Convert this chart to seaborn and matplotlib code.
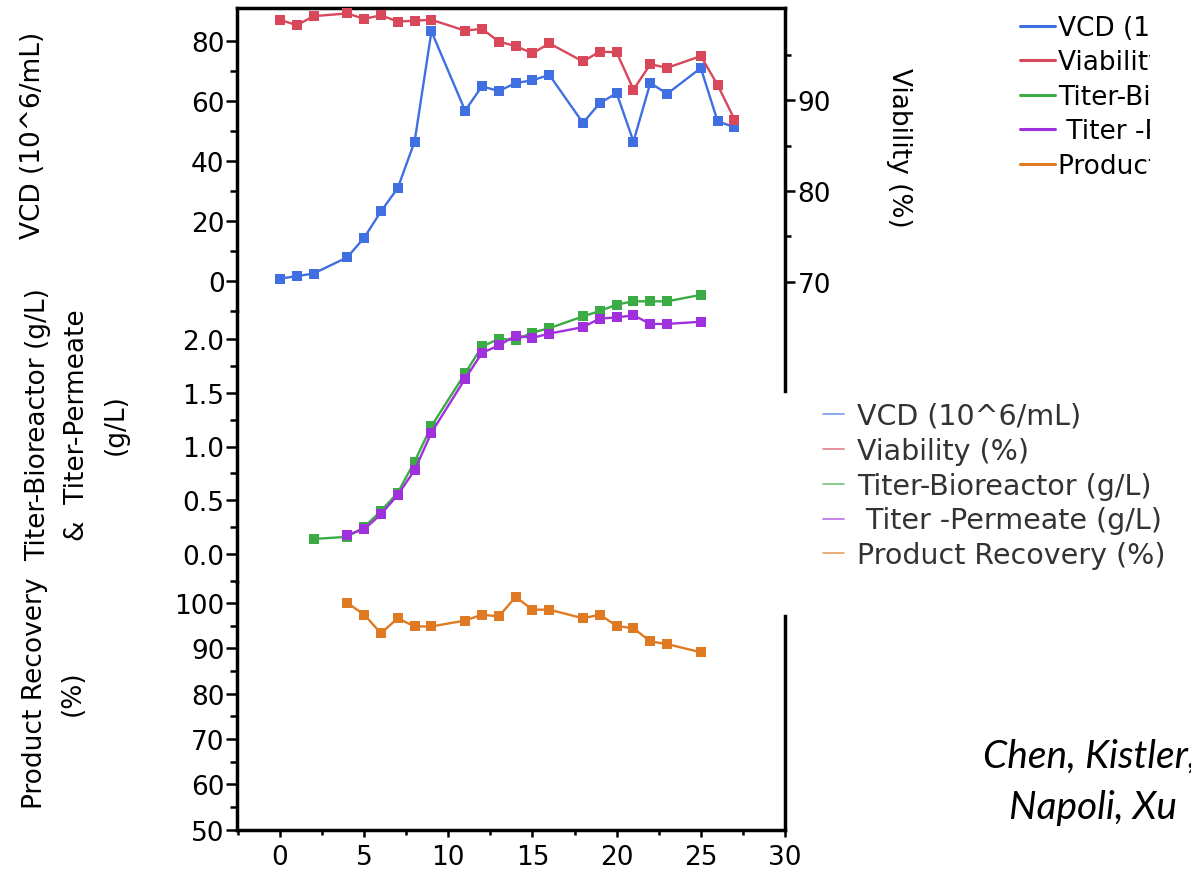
import matplotlib
matplotlib.use("Agg")
import seaborn as sns
import matplotlib.pyplot as plt
from matplotlib.lines import Line2D
from matplotlib.patches import Rectangle

sns.set_style("ticks")
plt.rcParams['font.family'] = ['DejaVu Sans']
plt.rcParams.update({"text.color": "black", "xtick.color": "black", "ytick.color": "black",
                     "axes.labelcolor": "black"})

# Data
vcd_day = [0, 1, 2, 4, 5, 6, 7, 8, 9, 11, 12, 13, 14, 15, 16, 18, 19, 20, 21, 22, 23, 25, 26, 27]
vcd = [0.8, 1.6, 2.5, 7.9, 14.4, 23.2, 31.0, 46.5, 83.2, 56.8, 64.9, 63.3, 66.0, 66.9, 68.7,
       52.7, 59.3, 62.6, 46.5, 66.0, 62.4, 71.0, 53.2, 51.3]
viability = [98.9, 98.3, 99.3, 99.6, 99.0, 99.4, 98.7, 98.8, 98.9, 97.7, 97.9, 96.5, 96.0, 95.2,
             96.3, 94.3, 95.4, 95.3, 91.2, 94.0, 93.6, 94.9, 91.7, 87.9]
titer_bio_day = [2, 4, 5, 6, 7, 8, 9, 11, 12, 13, 14, 15, 16, 18, 19, 20, 21, 22, 23, 25]
titer_bio = [0.14, 0.16, 0.25, 0.40, 0.57, 0.86, 1.19, 1.68, 1.93, 2.00, 1.99, 2.06, 2.10, 2.21,
             2.26, 2.32, 2.35, 2.35, 2.35, 2.41]
perm_day = [4, 5, 6, 7, 8, 9, 11, 12, 13, 14, 15, 16, 18, 19, 20, 21, 22, 23, 25]
titer_perm = [0.18, 0.23, 0.37, 0.55, 0.78, 1.13, 1.63, 1.87, 1.94, 2.03, 2.01, 2.05, 2.11, 2.19,
              2.20, 2.22, 2.14, 2.14, 2.16]
recovery = [100.0, 97.4, 93.3, 96.6, 94.8, 94.8, 96.1, 97.4, 97.0, 101.3, 98.5, 98.5, 96.6, 97.4,
            94.9, 94.4, 91.5, 90.9, 89.1]

labels = ["VCD (10^6/mL)", "Viability (%)", "Titer-Bioreactor (g/L)",
          " Titer -Permeate (g/L)", "Product Recovery (%)"]
colors = ["#3f6fe0", "#d9475a", "#3aab45", "#a030dc", "#e07a22"]

W, H = 1191, 870
fig = plt.figure(figsize=(W / 100, H / 100), dpi=100)


def band(top, bottom):
    return [237 / W, 1 - bottom / H, (785 - 237) / W, (bottom - top) / H]


ax_vcd = fig.add_axes(band(9, 312))
ax_via = fig.add_axes(band(9, 392))
ax_tit = fig.add_axes(band(312, 583))
ax_rec = fig.add_axes(band(583, 831))

for ax in [ax_vcd, ax_via, ax_tit, ax_rec]:
    ax.set_facecolor("none")
    ax.set_xlim(-2.55, 30)
    for s in ax.spines.values():
        s.set_visible(False)
        s.set_linewidth(2.5)
        s.set_color("black")
    ax.set_xticks([])

kw = dict(marker="s", markersize=6.5, markeredgewidth=0, linewidth=1.7)
sns.lineplot(x=vcd_day, y=vcd, ax=ax_vcd, color=colors[0], **kw)
sns.lineplot(x=vcd_day, y=viability, ax=ax_via, color=colors[1], **kw)
sns.lineplot(x=titer_bio_day, y=titer_bio, ax=ax_tit, color=colors[2], **kw)
sns.lineplot(x=perm_day, y=titer_perm, ax=ax_tit, color=colors[3], **kw)
sns.lineplot(x=perm_day, y=recovery, ax=ax_rec, color=colors[4], **kw)
for ax in [ax_vcd, ax_via, ax_tit, ax_rec]:
    ax.set_xlabel("")
    ax.set_ylabel("")
    for l in ax.lines:
        l.set_clip_on(False)

# left stacked scales
ax_vcd.set_ylim(-9.8, 91.0)
ax_vcd.set_yticks([0, 20, 40, 60, 80])
ax_vcd.set_yticks([-10, 10, 30, 50, 70], minor=True)
ax_vcd.spines["left"].set_visible(True)
ax_vcd.spines["top"].set_visible(True)

ax_tit.set_ylim(-0.26, 2.26)
ax_tit.set_yticks([0, 0.5, 1.0, 1.5, 2.0], ["0.0", "0.5", "1.0", "1.5", "2.0"])
ax_tit.set_yticks([-0.25, 0.25, 0.75, 1.25, 1.75], minor=True)
ax_tit.spines["left"].set_visible(True)

ax_rec.set_ylim(49.9, 104.6)
ax_rec.set_yticks([50, 60, 70, 80, 90, 100])
ax_rec.set_yticks([55, 65, 75, 85, 95], minor=True)
ax_rec.spines["left"].set_visible(True)
ax_rec.spines["bottom"].set_visible(True)
ax_rec.spines["right"].set_visible(True)
ax_rec.spines["right"].set_bounds(49.9, 97.1)
ax_rec.set_xticks([0, 5, 10, 15, 20, 25, 30])
ax_rec.set_xticks([-2.5 + 5 * i for i in range(7)], minor=True)

for ax in [ax_vcd, ax_tit, ax_rec]:
    ax.tick_params(axis="y", which="major", direction="out", length=8, width=1.8,
                   labelsize=19, pad=1)
    ax.tick_params(axis="y", which="minor", direction="out", length=5, width=1.8)
ax_rec.tick_params(axis="x", which="major", direction="out", length=5, width=1.8,
                   labelsize=19, pad=5)
ax_rec.tick_params(axis="x", which="minor", direction="out", length=3.4, width=1.8)

# viability on the right
ax_via.set_ylim(57.95, 100.2)
ax_via.yaxis.tick_right()
ax_via.set_yticks([70, 80, 90])
ax_via.set_yticks([75, 85, 95], minor=True)
ax_via.spines["right"].set_visible(True)
ax_via.tick_params(axis="y", which="major", direction="out", length=7, width=1.8,
                   labelsize=19, pad=2)
ax_via.tick_params(axis="y", which="minor", direction="out", length=4.3, width=1.8)

# axis titles
fig.text(33 / W, 1 - 135 / H, "VCD (10^6/mL)", rotation=90, ha="center", va="center", fontsize=19)
fig.text(77 / W, 1 - 425 / H, "Titer-Bioreactor (g/L)\n&  Titer-Permeate\n(g/L)", rotation=90,
         ha="center", va="center", multialignment="center", fontsize=19, linespacing=1.65)
fig.text(54 / W, 1 - 693 / H, "Product Recovery\n(%)", rotation=90, ha="center", va="center",
         multialignment="center", fontsize=19, linespacing=1.6)
fig.text(899 / W, 1 - 148 / H, "Viability (%)", rotation=270, ha="center", va="center", fontsize=19)

# legends
top_handles = [Line2D([], [], color=c, lw=2.2) for c in colors]
fig.legend(top_handles, labels, loc="upper left", bbox_to_anchor=(1020 / W, 1 - 16 / H),
           frameon=False, borderpad=0, borderaxespad=0, handlelength=1.33,
           handletextpad=0.12, labelspacing=0.32, fontsize=19)
fig.add_artist(Rectangle((1150 / W, 1 - 200 / H), (W - 1150) / W, 200 / H,
                         transform=fig.transFigure, facecolor="white", edgecolor="none",
                         zorder=20))

low_handles = [Line2D([], [], color=c, lw=1.2, alpha=0.7) for c in colors]
fig.legend(low_handles, labels, loc="upper left", bbox_to_anchor=(823 / W, 1 - 403 / H),
           frameon=False, borderpad=0, borderaxespad=0, handlelength=0.75,
           handletextpad=0.45, labelspacing=0.24, fontsize=20.5, labelcolor="#333333")

# credit
fig.text(983 / W, 1 - 757 / H, "Chen, Kistler,", fontsize=28, style="italic", family="Lato",
         ha="left", va="center")
fig.text(1009 / W, 1 - 808 / H, "Napoli, Xu", fontsize=28, style="italic", family="Lato",
         ha="left", va="center")

fig.savefig("out.png", dpi=100)
